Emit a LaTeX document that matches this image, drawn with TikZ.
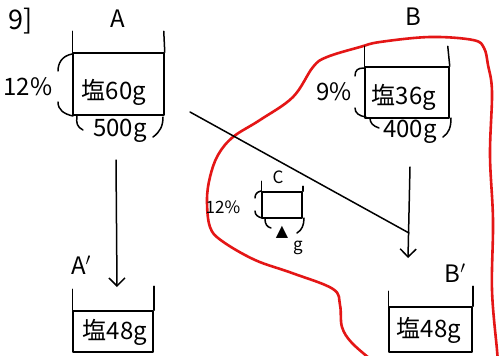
\documentclass[tikz,border=0pt]{standalone}
\usepackage{fontspec}
\setmainfont{Noto Sans CJK JP}
\newfontfamily\symfont{DejaVu Sans}
\usetikzlibrary{arrows.meta}
\definecolor{pen}{RGB}{228,22,22}
\begin{document}
\begin{tikzpicture}[x=1pt,y=-1pt,
  ink/.style={line width=1.5pt, line cap=round, line join=round},
  liquid/.style={ink, draw, rectangle, inner sep=0pt},
  lbl/.style={font=\fontsize{24}{26}\selectfont, inner sep=0pt},
  small/.style={font=\fontsize{17}{19}\selectfont, inner sep=0pt},
  arr/.style={ink, -{Straight Barb[length=8pt,width=16pt,line width=1.5pt]}},
  redline/.style={line width=2.6pt, draw=pen, line cap=round, line join=round}]
\useasboundingbox (0,0) rectangle (501,356);
\fill[white] (0,0) rectangle (501,356);

% red outline
\begin{scope}
\clip (0,0) rectangle (501,356);
\draw[redline] plot[smooth, tension=0.6] coordinates {
 (374,362) (352,343) (342,327) (340,305) (333,289) (292,273) (255,260)
 (222,241) (210,227) (207,200) (210,177) (218,155) (233,137) (260,120)
 (293,97) (313,67) (327,57) (360,47) (380,42) (430,37) (473,40) (484,48)
 (488,65) (492,92) (490,155) (493,220) (492,290) (497,350) (498,362)};
\end{scope}

% title
\node[font=\fontsize{27}{29}\selectfont, inner sep=0pt] (title) at (21,21) {9]};

% container A
\node[liquid, minimum width=91pt, minimum height=62pt] (Aliq) at (118.5,84) {};
\draw[ink] (Aliq.north west) -- ++(0,-21);
\draw[ink] (Aliq.north east) -- ++(-1,-21);
\node[lbl] (Alab) at (118,19) {A};
\node[lbl] (Atxt) at (114,92) {塩60g};
\node[lbl] (Apct) at (28,87) {12\%};
\node[lbl] (Atot) at (120,131) {500g};
\draw[ink] (72,54) .. controls (62,56) and (58,63) .. (58,71);
\draw[ink] (58,102) .. controls (58,110) and (64,114) .. (73,116);
\draw[ink] (77,116) .. controls (76,123) and (77,127) .. (83,130);
\draw[ink] (163,117) .. controls (163,126) and (160,132) .. (153,137);

% container B
\node[liquid, minimum width=84pt, minimum height=51pt] (Bliq) at (407,92.5) {};
\draw[ink] (Bliq.north west) -- ++(0,-20);
\draw[ink] (Bliq.north east) -- ++(-2,-20);
\node[lbl] (Blab) at (413,17) {B};
\node[lbl] (Btxt) at (404,97) {塩36g};
\node[lbl] (Bpct) at (334,92) {9\%};
\node[lbl] (Btot) at (410,132) {400g};
\draw[ink] (364,68) .. controls (358,68) and (355,70) .. (355,76);
\draw[ink] (355,108) .. controls (355,113) and (359,116) .. (366,117);
\draw[ink] (370,118) .. controls (370,123) and (373,126) .. (379,128);
\draw[ink] (451,118) .. controls (451,127) and (449,133) .. (443,137);

% container C
\node[liquid, minimum width=40pt, minimum height=26pt] (Cliq) at (282,205) {};
\draw[ink] (Cliq.north west) -- ++(0,-10);
\draw[ink] (Cliq.north east) -- ++(0,-5);
\node[small] (Clab) at (278,177) {C};
\node[small] (Cpct) at (223,207) {12\%};
\node[inner sep=0pt, font=\symfont\fontsize{16}{17}\selectfont] (Ctri) at (282,232) {▲};
\node[small] (Cg) at (298,248) {g};
\draw[ink] (261,191) .. controls (257,192) and (255,194) .. (255,198);
\draw[ink] (255,211) .. controls (255,215) and (258,217) .. (262,218);
\draw[ink] (265,219) .. controls (265,224) and (267,227) .. (271,228);
\draw[ink] (304,218) .. controls (304,225) and (302,230) .. (297,233);

% container A'
\node[liquid, minimum width=80pt, minimum height=41pt] (Apliq) at (113,331.5) {};
\draw[ink] (Apliq.north west) -- ++(0,-21);
\draw[ink] (Apliq.north east) -- ++(0,-24);
\node[lbl] (Aplab) at (81,265) {A$'$};
\node[lbl] (Aptxt) at (115,332) {塩48g};

% container B'
\node[liquid, minimum width=83pt, minimum height=45pt] (Bpliq) at (430.5,329.5) {};
\draw[ink] (Bpliq.north west) -- ++(0,-15);
\draw[ink] (Bpliq.north east) -- ++(0,-20);
\node[lbl] (Bplab) at (455,273) {B$'$};
\node[lbl] (Bptxt) at (429,330) {塩48g};

% connectors
\coordinate (a1) at (116,160);
\coordinate (a2) at (117,287);
\draw[arr] (a1) -- (a2);
\coordinate (b1) at (410,167);
\coordinate (b2) at (408,258);
\draw[arr] (b1) -- (b2);
\coordinate (d1) at (190,112);
\coordinate (dj) at (409,233);
\draw[ink] (d1) -- (dj);
\end{tikzpicture}
\end{document}
